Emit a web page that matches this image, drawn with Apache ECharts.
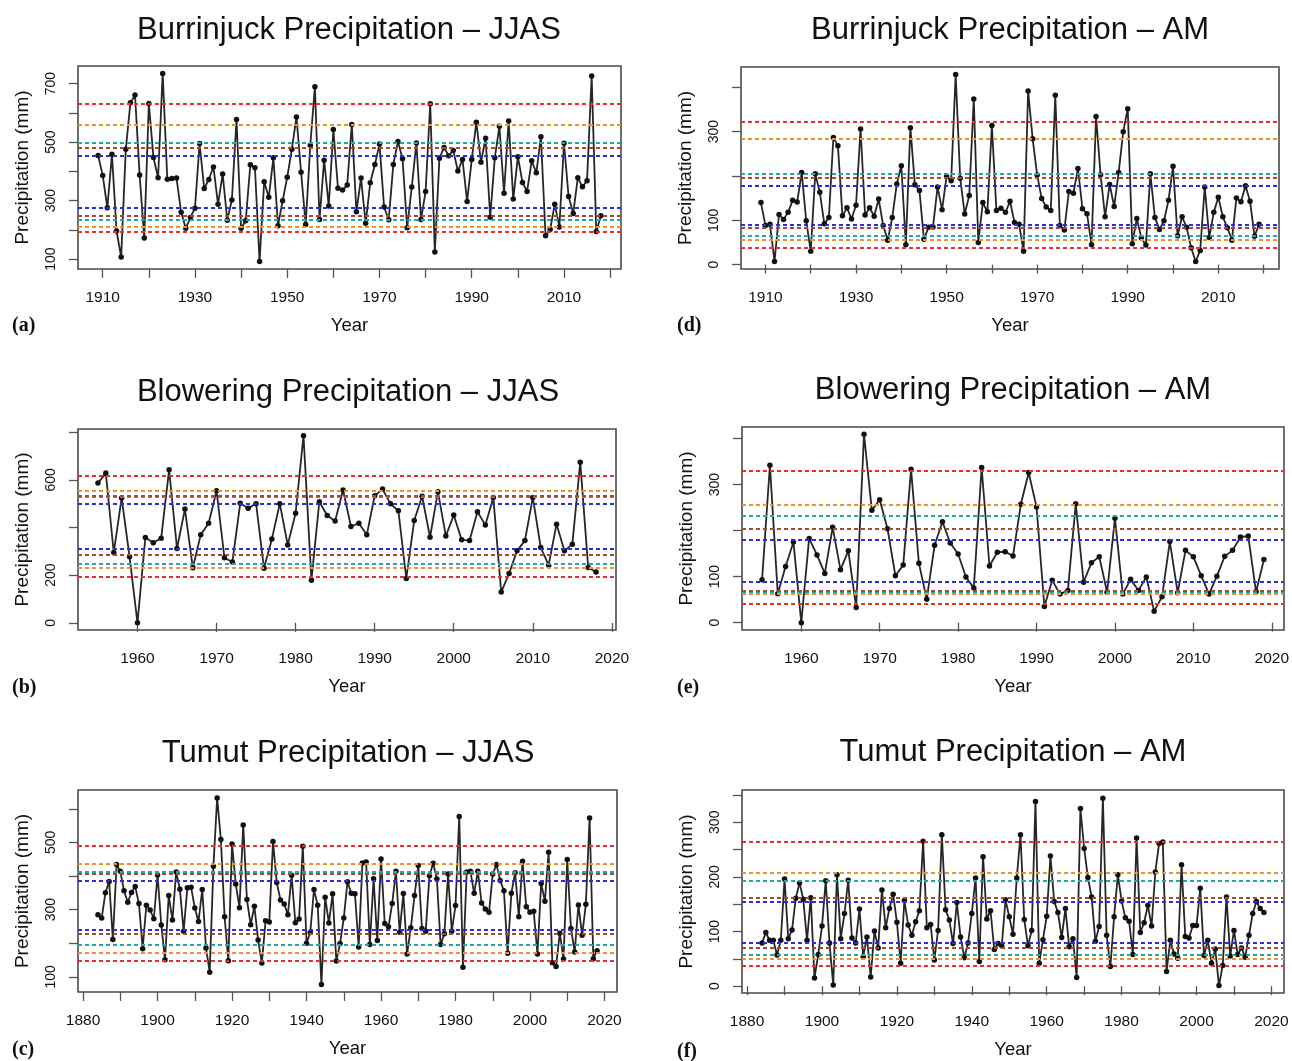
<!DOCTYPE html>
<html><head><meta charset="utf-8">
<script src="https://cdn.jsdelivr.net/npm/echarts@6/dist/echarts.min.js"></script>
<style>html,body{margin:0;padding:0;background:#fff}#c{width:1292px;height:1061px}</style>
</head><body><div id="c"></div>
<script>
// ---------- DATA ----------
const startA = 1909; // Burrinjuck JJAS
const valuesA = [454,386,275,458,196,107,475,634,661,387,172,632,447,378,734,373,375,377,260,205,242,274,495,341,372,415,287,391,233,302,577,205,231,422,412,92,364,311,446,214,299,380,475,586,397,218,489,689,235,438,281,543,342,336,353,560,262,377,222,361,423,493,278,234,423,502,443,207,346,497,235,331,631,124,445,481,453,471,401,440,297,440,568,431,513,243,446,554,325,572,305,450,362,331,436,395,518,180,201,287,210,496,314,256,378,347,368,726,194,248];
const startB = 1955; // Blowering JJAS
const valuesB = [586,628,295,524,277,0,358,336,355,642,312,477,231,369,418,554,273,255,502,481,500,229,352,500,327,460,785,179,508,450,427,557,404,418,369,533,561,499,470,186,429,531,359,550,364,452,348,345,466,410,526,129,207,302,345,526,316,242,414,302,330,674,232,213];
const startC = 1884; // Tumut JJAS
const valuesC = [285,275,350,384,211,434,414,356,322,351,369,318,184,313,299,273,403,254,151,342,269,412,361,236,365,367,305,265,360,186,114,429,632,509,279,148,495,376,306,552,330,255,310,210,141,267,263,503,381,329,317,285,402,261,272,489,200,232,360,313,77,337,260,347,147,199,275,383,349,347,189,439,442,196,392,208,451,259,249,318,414,233,348,168,246,342,431,244,236,401,438,391,196,228,406,236,312,577,129,412,414,349,414,320,302,292,406,434,387,356,170,349,410,279,444,309,292,295,168,378,325,471,142,131,230,153,449,244,174,314,224,316,573,154,178];
const startD = 1909; // Burrinjuck AM
const valuesD = [140,88,91,7,113,102,118,145,141,208,99,30,205,163,92,106,287,268,110,128,103,134,306,112,128,109,148,88,55,106,182,223,45,309,180,167,57,84,85,175,124,199,189,429,195,114,156,374,50,140,119,314,122,127,118,143,95,91,30,392,284,202,149,130,122,382,88,78,165,161,217,126,115,45,334,203,108,181,131,208,300,352,47,104,60,44,205,106,79,99,145,222,65,108,84,38,7,32,175,61,118,152,108,83,55,150,142,178,143,64,91];
const startE = 1955; // Blowering AM
const valuesE = [93,342,63,122,175,0,183,147,107,207,115,156,33,409,244,267,204,102,125,333,129,51,168,219,173,149,99,75,337,123,153,154,145,257,326,251,35,92,62,70,258,88,130,143,66,227,62,94,70,99,25,56,176,65,157,143,102,62,101,144,157,186,188,67,137];
const startF = 1884; // Tumut AM
const valuesF = [79,98,84,84,57,84,196,87,103,161,189,159,84,162,15,58,110,193,79,2,204,87,133,194,88,79,141,54,90,17,101,70,176,107,142,168,117,42,157,112,93,118,138,265,107,113,48,102,277,140,121,78,153,90,52,79,133,198,45,237,123,138,67,78,74,158,127,95,198,277,122,74,102,338,42,85,128,238,155,135,89,142,72,87,16,325,252,199,163,82,109,344,93,36,127,204,156,125,119,58,271,98,116,148,110,209,261,264,27,84,59,51,222,91,88,111,111,179,56,84,42,68,1,38,163,55,102,58,70,53,93,133,155,142,135];

// threshold levels: red, orange, teal, brown, blue (upper) / blue, brown, teal, orange, red (lower)
const levelsA = [631,560,498,481,454,276,247,233,210,194];
const levelsB = [618,555,529,531,499,309,287,248,231,192];
const levelsC = [489,438,412,406,385,239,227,196,171,148];
const levelsD = [323,285,206,197,179,91,83,65,55,39];
const levelsE = [330,257,233,204,181,89,70,66,63,40];
const levelsF = [264,207,193,162,155,79,70,58,51,38];
const levelColors = ['#e8302f','#f0922c','#22a89c','#a8463e','#2b2be0','#2b2be0','#a8463e','#22a89c','#f0922c','#e8302f'];

// tick values and labels
const xTicksA = [1910,1920,1930,1940,1950,1960,1970,1980,1990,2000,2010,2020];
const xLabelsA = [1910,1930,1950,1970,1990,2010];
const xTicksB = [1960,1970,1980,1990,2000,2010,2020];
const xLabelsB = [1960,1970,1980,1990,2000,2010,2020];
const xTicksC = [1880,1890,1900,1910,1920,1930,1940,1950,1960,1970,1980,1990,2000,2010,2020];
const xLabelsC = [1880,1900,1920,1940,1960,1980,2000,2020];
const yTicksA = [100,200,300,400,500,600,700];
const yLabelsA = [100,300,500,700];
const yTicksB = [0,200,400,600,800];
const yLabelsB = [0,200,600];
const yTicksC = [100,200,300,400,500,600];
const yLabelsC = [100,300,500];
const yTicksD = [0,100,200,300,400];
const yLabelsD = [0,100,300];
const yTicksE = [0,100,200,300,400];
const yLabelsE = [0,100,300];
const yTicksF = [0,50,100,150,200,250,300,350];
const yLabelsF = [0,100,200,300];

const titles = ['Burrinjuck Precipitation – JJAS','Blowering Precipitation – JJAS','Tumut Precipitation – JJAS',
                'Burrinjuck Precipitation – AM','Blowering Precipitation – AM','Tumut Precipitation – AM'];
const tags = ['(a)','(b)','(c)','(d)','(e)','(f)'];

// ---------- LAYOUT ----------
const panels = [
  {start:startA, values:valuesA, levels:levelsA, grid:[78,66,543,203], x:[1904.64,2022.36], y:[66,760],
   xt:xTicksA, xl:xLabelsA, yt:yTicksA, yl:yLabelsA, tXY:[349,30], gXY:[12,326]},
  {start:startB, values:valuesB, levels:levelsB, grid:[78,429,538,201], x:[1952.48,2020.52], y:[-30,813],
   xt:xTicksB, xl:xLabelsB, yt:yTicksB, yl:yLabelsB, tXY:[348,392], gXY:[12,688]},
  {start:startC, values:valuesC, levels:levelsC, grid:[78,790,539,202], x:[1878.64,2023.36], y:[55,656],
   xt:xTicksC, xl:xLabelsC, yt:yTicksC, yl:yLabelsC, tXY:[348,753], gXY:[12,1050]},
  {start:startD, values:valuesD, levels:levelsD, grid:[741,67,538,202], x:[1904.6,2023.4], y:[-10,446],
   xt:xTicksA, xl:xLabelsA, yt:yTicksD, yl:yLabelsD, tXY:[1010,30], gXY:[677,326]},
  {start:startE, values:valuesE, levels:levelsE, grid:[742,427,542,203], x:[1952.44,2021.56], y:[-16,425],
   xt:xTicksB, xl:xLabelsB, yt:yTicksE, yl:yLabelsE, tXY:[1013,390], gXY:[677,688]},
  {start:startF, values:valuesF, levels:levelsF, grid:[742,790,542,203], x:[1878.64,2023.36], y:[-12.5,359],
   xt:xTicksC, xl:xLabelsC, yt:yTicksF, yl:yLabelsF, tXY:[1013,752], gXY:[677,1052]}
];

const FONT = '"Liberation Sans", Arial, Helvetica, sans-serif';
const AX = '#555';
const grids = [], xAxes = [], yAxes = [], series = [], graphics = [];

panels.forEach((p, i) => {
  grids.push({left:p.grid[0], top:p.grid[1], width:p.grid[2], height:p.grid[3],
    show:true, borderColor:'#4a4a4a', borderWidth:1.6, backgroundColor:'transparent',
    containLabel:false, outerBoundsMode:'none'});
  xAxes.push({type:'value', gridIndex:i, min:p.x[0], max:p.x[1],
    name:'Year', nameLocation:'middle', nameGap:47,
    nameTextStyle:{fontFamily:FONT, fontSize:18.5, color:'#111'},
    axisLine:{show:false}, splitLine:{show:false},
    axisTick:{show:true, inside:false, length:9, customValues:p.xt, lineStyle:{color:AX, width:1.3}},
    axisLabel:{show:true, margin:21, customValues:p.xl, fontFamily:FONT, fontSize:15.5, color:'#111',
      formatter: v => String(v)}});
  yAxes.push({type:'value', gridIndex:i, min:p.y[0], max:p.y[1],
    name:'Precipitation (mm)', nameLocation:'middle', nameGap:46, nameRotate:90,
    nameTextStyle:{fontFamily:FONT, fontSize:19, color:'#111'},
    axisLine:{show:false}, splitLine:{show:false},
    axisTick:{show:true, inside:false, length:9, customValues:p.yt, lineStyle:{color:AX, width:1.3}},
    axisLabel:{show:true, rotate:90, margin:20, customValues:p.yl, fontFamily:FONT, fontSize:14, color:'#111',
      formatter: v => String(v)}});
  // threshold lines
  p.levels.forEach((lv, k) => {
    series.push({type:'line', xAxisIndex:i, yAxisIndex:i, data:[], silent:true, z:1,
      markLine:{silent:true, symbol:['none','none'], animation:false, label:{show:false},
        lineStyle:{color:levelColors[k], type:[4,3], width:1.8},
        emphasis:{disabled:true},
        data:[{yAxis:lv}]}});
  });
  series.push({type:'line', xAxisIndex:i, yAxisIndex:i, z:3, animation:false,
    data:p.values.map((v, j) => [p.start + j, v]),
    lineStyle:{color:'#262626', width:1.8}, itemStyle:{color:'#111'},
    symbol:'circle', symbolSize:5.5, showSymbol:true});
  graphics.push({type:'text', x:p.tXY[0], y:p.tXY[1],
    style:{text:titles[i], textAlign:'center', textVerticalAlign:'middle', font:'31px '+FONT, fill:'#111'}});
  graphics.push({type:'text', x:p.gXY[0], y:p.gXY[1],
    style:{text:tags[i], textAlign:'left', textVerticalAlign:'middle', font:'bold 20px "Liberation Serif", "Times New Roman", serif', fill:'#111'}});
});

const chart = echarts.init(document.getElementById('c'), null, {renderer:'canvas'});
chart.setOption({animation:false, backgroundColor:'#fff', grid:grids, xAxis:xAxes, yAxis:yAxes, series:series, graphic:graphics});
</script></body></html>
